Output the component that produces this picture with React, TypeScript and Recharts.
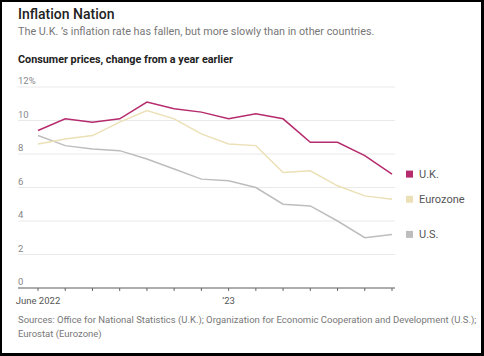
import { LineChart, Line, XAxis, YAxis, CartesianGrid } from 'recharts'

const months = [
  'Jun 22', 'Jul 22', 'Aug 22', 'Sep 22', 'Oct 22', 'Nov 22', 'Dec 22',
  'Jan 23', 'Feb 23', 'Mar 23', 'Apr 23', 'May 23', 'Jun 23', 'Jul 23',
]
const uk = [9.4, 10.1, 9.9, 10.1, 11.1, 10.7, 10.5, 10.1, 10.4, 10.1, 8.7, 8.7, 7.9, 6.8]
const eurozone = [8.6, 8.9, 9.1, 9.9, 10.6, 10.1, 9.2, 8.6, 8.5, 6.9, 7.0, 6.1, 5.5, 5.3]
const us = [9.1, 8.5, 8.3, 8.2, 7.7, 7.1, 6.5, 6.4, 6.0, 5.0, 4.9, 4.0, 3.0, 3.2]
const xTickLabels: Record<string, string> = { 'Jun 22': 'June 2022', 'Jan 23': '\u201923' }
const yTicks = [0, 2, 4, 6, 8, 10, 12]

const data = months.map((m, i) => ({ month: m, uk: uk[i], eurozone: eurozone[i], us: us[i] }))

const FONT = 'Roboto, sans-serif'
const PLOT_LEFT = 18

const YTick = (props: any) => {
  const { y, payload } = props
  const label = payload.value === 12 ? '12%' : String(payload.value)
  return (
    <text x={PLOT_LEFT} y={y - 3} fontSize={9.5} fill="#888" fontFamily={FONT}>
      {label}
    </text>
  )
}

const XTick = (props: any) => {
  const { x, y, payload } = props
  const label = xTickLabels[payload.value]
  if (!label) return null
  return (
    <text x={x} y={y + 11} fontSize={9.5} fill="#555" textAnchor="middle" fontFamily={FONT}>
      {label}
    </text>
  )
}

const endLabel = (name: string, color: string) => (props: any) => {
  const { x, y, index } = props
  if (index !== months.length - 1) return null
  return (
    <g>
      <rect x={x + 14} y={y - 3.5} width={7} height={7} fill={color} />
      <text x={x + 27} y={y + 4} fontSize={11} fill="#555" fontFamily={FONT}>
        {name}
      </text>
    </g>
  )
}

export default function App() {
  return (
    <div
      style={{
        position: 'fixed',
        top: 0,
        left: 0,
        width: 484,
        height: 356,
        boxSizing: 'border-box',
        borderStyle: 'solid',
        borderColor: '#000',
        borderWidth: '2px 3px 3px 2px',
        background: '#fff',
        fontFamily: FONT,
        overflow: 'hidden',
      }}
    >
      <div style={{ position: 'absolute', left: -2, top: -2 }}>
        <LineChart width={484} height={310} data={data} margin={{ top: 87, right: 89, left: PLOT_LEFT - 1, bottom: 2 }}>
          <CartesianGrid vertical={false} stroke="#e9e9e9" strokeWidth={1} />
          <XAxis
            dataKey="month"
            interval={0}
            padding={{ left: 20, right: 3 }}
            height={20}
            axisLine={{ stroke: '#666' }}
            tickLine={{ stroke: '#666' }}
            tickSize={3}
            tick={<XTick />}
          />
          <YAxis
            width={1}
            domain={[0, 12]}
            ticks={yTicks}
            interval={0}
            axisLine={false}
            tickLine={false}
            tick={<YTick />}
          />
          <Line dataKey="us" stroke="#bdbdbd" strokeWidth={1.5} dot={false} isAnimationActive={false} label={endLabel('U.S.', '#bdbdbd')} />
          <Line dataKey="eurozone" stroke="#ece0b6" strokeWidth={1.5} dot={false} isAnimationActive={false} label={endLabel('Eurozone', '#ece0b6')} />
          <Line dataKey="uk" stroke="#b52b6d" strokeWidth={1.5} dot={false} isAnimationActive={false} label={endLabel('U.K.', '#b52b6d')} />
        </LineChart>
      </div>
      <div style={{ position: 'absolute', left: 16, top: 4, fontSize: 14, fontWeight: 500, color: '#222' }}>
        Inflation Nation
      </div>
      <div style={{ position: 'absolute', left: 16, top: 23, fontSize: 10.8, color: '#777' }}>
        The U.K. ’s inflation rate has fallen, but more slowly than in other countries.
      </div>
      <div style={{ position: 'absolute', left: 16, top: 51, fontSize: 10.8, fontWeight: 700, color: '#222' }}>
        Consumer prices, change from a year earlier
      </div>
      <div style={{ position: 'absolute', left: 16, top: 311, fontSize: 9.5, lineHeight: '14px', color: '#777', width: 466, whiteSpace: 'nowrap' }}>
        Sources: Office for National Statistics (U.K.); Organization for Economic Cooperation and Development (U.S.);
        <br />
        Eurostat (Eurozone)
      </div>
    </div>
  )
}
